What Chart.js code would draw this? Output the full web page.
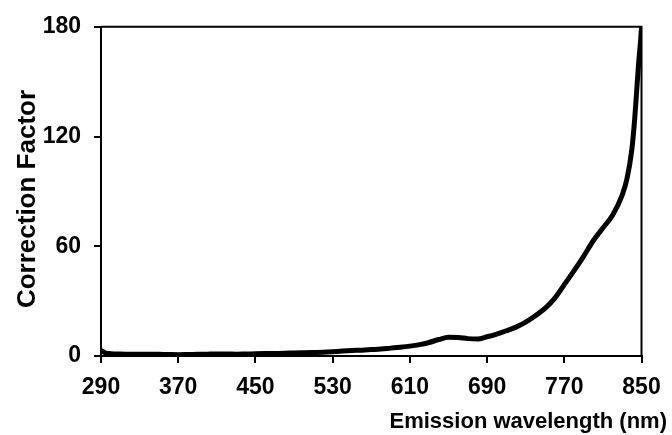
<!DOCTYPE html>
<html>
<head>
<meta charset="utf-8">
<style>
  html, body { margin: 0; padding: 0; background: #fff; }
  #wrap { width: 672px; height: 435px; }
</style>
<script src="https://cdn.jsdelivr.net/npm/chart.js@4/dist/chart.umd.min.js"></script>
</head>
<body>
<div id="wrap"><canvas id="myChart" width="672" height="435"></canvas></div>
<script>
// wavelength (nm) and correction factor
var wavelengths = [290, 295, 300, 310, 320, 330, 340, 350, 360, 370, 380, 390, 400, 410, 420, 430,
  440, 450, 460, 470, 480, 490, 500, 510, 520, 530, 540, 550, 560, 570, 580, 590, 600, 610, 620,
  630, 640, 650, 660, 670, 680, 690, 700, 710, 720, 730, 740, 750, 760, 770, 780, 790, 800, 810,
  820, 830, 835, 840, 843, 845, 847, 849, 850];
var factors = [3.0, 1.6, 1.3, 1.1, 1.0, 1.0, 1.0, 0.9, 0.8, 0.7, 0.8, 0.9, 1.0, 1.1, 1.1, 1.0,
  1.1, 1.2, 1.3, 1.4, 1.5, 1.7, 1.8, 1.9, 2.0, 2.3, 2.7, 3.0, 3.2, 3.5, 3.8, 4.3, 4.8, 5.4, 6.2,
  7.4, 9.0, 10.2, 10.1, 9.5, 9.3, 10.5, 12.0, 13.8, 15.8, 18.5, 22.0, 26.0, 31.5, 39.0, 46.5, 54.5, 63.0, 70.0,
  77.0, 88.0, 97.0, 113.0, 130.0, 145.0, 160.0, 172.0, 180.0];
var xTicks = [290, 370, 450, 530, 610, 690, 770, 850];
var yTicks = [0, 60, 120, 180];

var points = [];
for (var i = 0; i < wavelengths.length; ++i) {
  points.push({ x: wavelengths[i], y: factors[i] });
}

var FONT = "'Liberation Sans', Arial, sans-serif";

// box on top/right + axis titles
var frame = {
  id: "frame",
  afterDraw: function (chart) {
    var ctx = chart.ctx;
    var a = chart.chartArea;
    ctx.save();
    ctx.strokeStyle = "#000";
    ctx.lineWidth = 2;
    ctx.beginPath();
    ctx.moveTo(a.left, a.top);
    ctx.lineTo(a.right, a.top);
    ctx.lineTo(a.right, a.bottom);
    ctx.stroke();

    ctx.fillStyle = "#000";
    ctx.font = "bold 22px " + FONT;
    ctx.textAlign = "right";
    ctx.textBaseline = "alphabetic";
    ctx.fillText("Emission wavelength (nm)", 667, 428);

    ctx.translate(35, 199);
    ctx.rotate(-Math.PI / 2);
    ctx.font = "bold 26px " + FONT;
    ctx.textAlign = "center";
    ctx.fillText("Correction Factor", 0, 0);
    ctx.restore();
  },
};

var ctx = document.getElementById("myChart").getContext("2d");
new Chart(ctx, {
  type: "line",
  data: {
    datasets: [
      {
        data: points,
        borderColor: "#000",
        borderWidth: 5,
        borderCapStyle: "round",
        borderJoinStyle: "round",
        pointRadius: 0,
        fill: false,
        cubicInterpolationMode: "monotone",
      },
    ],
  },
  options: {
    responsive: false,
    animation: false,
    layout: { padding: { top: 24, right: 30.5, left: 0, bottom: 0 } },
    plugins: { legend: { display: false }, tooltip: { enabled: false } },
    scales: {
      x: {
        type: "linear",
        min: xTicks[0],
        max: xTicks[xTicks.length - 1],
        afterFit: function (s) { s.height = 79; },
        afterBuildTicks: function (s) { s.ticks = xTicks.map(function (v) { return { value: v }; }); },
        grid: { drawOnChartArea: false, drawTicks: true, tickLength: 7, color: "#000", lineWidth: 2 },
        border: { color: "#000", width: 2 },
        ticks: { color: "#000", padding: 11, maxRotation: 0, font: { family: FONT, size: 23, weight: "bold" } },
      },
      y: {
        min: yTicks[0],
        max: yTicks[yTicks.length - 1],
        afterFit: function (s) { s.width = 101; },
        afterBuildTicks: function (s) { s.ticks = yTicks.map(function (v) { return { value: v }; }); },
        grid: { drawOnChartArea: false, drawTicks: true, tickLength: 7, color: "#000", lineWidth: 2 },
        border: { color: "#000", width: 2 },
        ticks: { color: "#000", padding: 13, font: { family: FONT, size: 23, weight: "bold" } },
      },
    },
  },
  plugins: [frame],
});
</script>
</body>
</html>
